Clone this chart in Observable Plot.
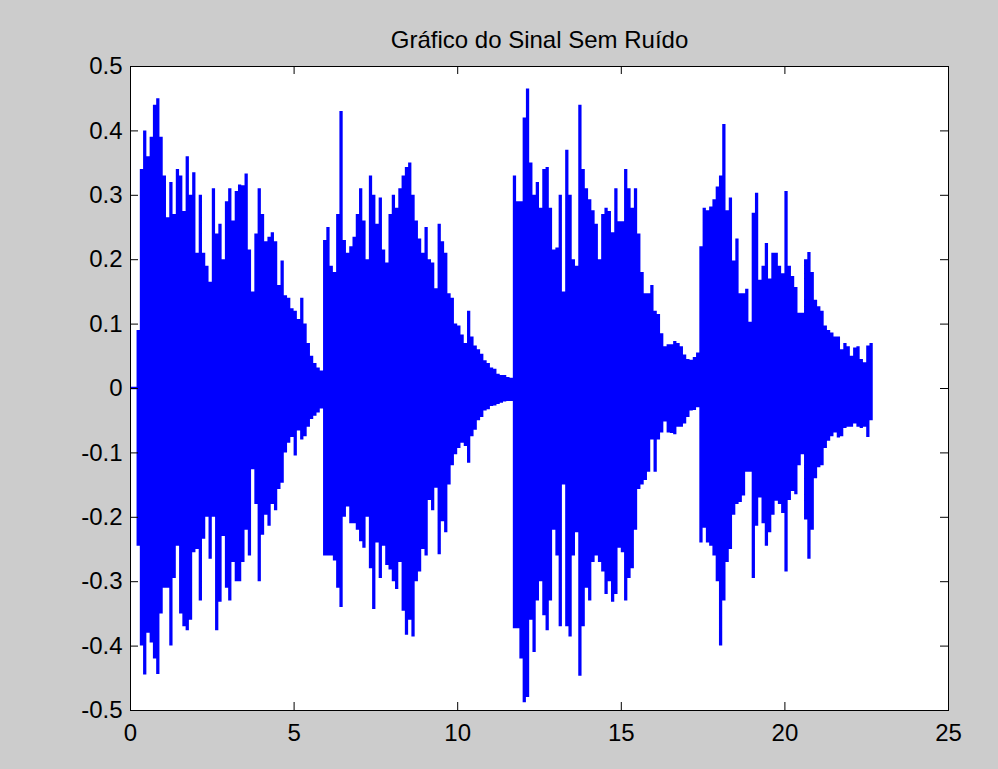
<!DOCTYPE html>
<html>
<head>
<meta charset="utf-8">
<script src="https://cdn.jsdelivr.net/npm/d3@7"></script>
<script src="https://cdn.jsdelivr.net/npm/@observablehq/plot@0.6"></script>
<style>
  html, body { margin: 0; padding: 0; background: #cccccc; }
  #chart svg { display: block; }
</style>
</head>
<body>
<div id="chart"></div>
<script>
// ---- data ----
const titleText = ["Gráfico do Sinal Sem Ruído"];
const sampleStep = 0.1; // seconds between envelope samples
const upperEnvelope = [
  0.002, 0.002, 0.09, 0.34, 0.40, 0.36, 0.39, 0.44, 0.45, 0.39,
  0.33, 0.265, 0.32, 0.27, 0.34, 0.33, 0.275, 0.36, 0.30, 0.335,
  0.21, 0.30, 0.21, 0.19, 0.165, 0.31, 0.24, 0.255, 0.20, 0.29,
  0.31, 0.26, 0.306, 0.316, 0.315, 0.333, 0.215, 0.15, 0.24, 0.31,
  0.27, 0.228, 0.235, 0.242, 0.228, 0.16, 0.198, 0.144, 0.14, 0.124,
  0.12, 0.107, 0.14, 0.10, 0.07, 0.05, 0.039, 0.032, 0.027, 0.23,
  0.25, 0.19, 0.18, 0.27, 0.43, 0.23, 0.21, 0.22, 0.235, 0.27,
  0.31, 0.26, 0.20, 0.33, 0.30, 0.255, 0.296, 0.215, 0.195, 0.27,
  0.30, 0.28, 0.31, 0.33, 0.343, 0.35, 0.30, 0.26, 0.232, 0.21,
  0.25, 0.20, 0.195, 0.155, 0.255, 0.228, 0.21, 0.147, 0.14, 0.10,
  0.097, 0.083, 0.07, 0.12, 0.08, 0.066, 0.06, 0.053, 0.043, 0.039,
  0.032, 0.03, 0.022, 0.02, 0.02, 0.017, 0.016, 0.33, 0.29, 0.29,
  0.42, 0.465, 0.35, 0.30, 0.32, 0.28, 0.34, 0.343, 0.28, 0.215,
  0.218, 0.30, 0.15, 0.37, 0.30, 0.20, 0.19, 0.44, 0.34, 0.31,
  0.293, 0.276, 0.255, 0.20, 0.27, 0.28, 0.275, 0.242, 0.31, 0.259,
  0.259, 0.34, 0.31, 0.28, 0.31, 0.24, 0.18, 0.147, 0.147, 0.16,
  0.12, 0.115, 0.085, 0.065, 0.068, 0.068, 0.073, 0.07, 0.065, 0.052,
  0.045, 0.044, 0.048, 0.055, 0.22, 0.28, 0.276, 0.282, 0.293, 0.313,
  0.33, 0.41, 0.276, 0.296, 0.198, 0.232, 0.147, 0.147, 0.154, 0.103,
  0.272, 0.303, 0.168, 0.19, 0.225, 0.17, 0.21, 0.21, 0.19, 0.178,
  0.306, 0.19, 0.174, 0.157, 0.117, 0.117, 0.20, 0.211, 0.18, 0.137,
  0.127, 0.12, 0.097, 0.09, 0.086, 0.08, 0.08, 0.06, 0.07, 0.065,
  0.05, 0.063, 0.065, 0.045, 0.04, 0.066, 0.07, 0
];
const lowerEnvelope = [
  -0.002, -0.002, -0.245, -0.40, -0.445, -0.38, -0.395, -0.42, -0.444, -0.35,
  -0.31, -0.31, -0.40, -0.295, -0.245, -0.35, -0.37, -0.376, -0.36, -0.255,
  -0.25, -0.33, -0.234, -0.20, -0.265, -0.20, -0.376, -0.332, -0.23, -0.31,
  -0.33, -0.27, -0.30, -0.30, -0.27, -0.22, -0.26, -0.126, -0.18, -0.30,
  -0.228, -0.197, -0.214, -0.18, -0.19, -0.157, -0.147, -0.10, -0.085, -0.076,
  -0.105, -0.066, -0.08, -0.075, -0.06, -0.048, -0.043, -0.038, -0.032, -0.26,
  -0.26, -0.26, -0.268, -0.31, -0.34, -0.20, -0.184, -0.21, -0.21, -0.22,
  -0.238, -0.248, -0.20, -0.28, -0.343, -0.24, -0.295, -0.245, -0.275, -0.282,
  -0.30, -0.312, -0.27, -0.346, -0.383, -0.36, -0.386, -0.30, -0.285, -0.25,
  -0.26, -0.174, -0.19, -0.155, -0.258, -0.207, -0.224, -0.15, -0.12, -0.103,
  -0.093, -0.085, -0.09, -0.116, -0.075, -0.065, -0.05, -0.045, -0.035, -0.033,
  -0.028, -0.027, -0.025, -0.023, -0.021, -0.02, -0.02, -0.373, -0.373, -0.42,
  -0.488, -0.48, -0.36, -0.41, -0.33, -0.30, -0.353, -0.376, -0.33, -0.22,
  -0.26, -0.37, -0.15, -0.37, -0.386, -0.26, -0.224, -0.447, -0.37, -0.31,
  -0.33, -0.27, -0.26, -0.27, -0.285, -0.32, -0.30, -0.332, -0.32, -0.248,
  -0.255, -0.33, -0.295, -0.28, -0.22, -0.157, -0.15, -0.143, -0.13, -0.08,
  -0.13, -0.08, -0.069, -0.052, -0.069, -0.07, -0.072, -0.06, -0.06, -0.055,
  -0.045, -0.035, -0.034, -0.03, -0.24, -0.217, -0.24, -0.245, -0.26, -0.30,
  -0.40, -0.33, -0.27, -0.25, -0.197, -0.18, -0.177, -0.167, -0.13, -0.13,
  -0.295, -0.214, -0.17, -0.21, -0.245, -0.224, -0.197, -0.175, -0.18, -0.194,
  -0.285, -0.174, -0.16, -0.165, -0.12, -0.103, -0.204, -0.265, -0.22, -0.14,
  -0.123, -0.12, -0.093, -0.082, -0.075, -0.069, -0.077, -0.075, -0.062, -0.06,
  -0.06, -0.055, -0.06, -0.062, -0.06, -0.076, -0.05, 0
];
const xTicks = [0, 5, 10, 15, 20, 25];
const xTickLabels = ["0", "5", "10", "15", "20", "25"];
const yTicks = [-0.5, -0.4, -0.3, -0.2, -0.1, 0, 0.1, 0.2, 0.3, 0.4, 0.5];
const yTickLabels = ["-0.5", "-0.4", "-0.3", "-0.2", "-0.1", "0", "0.1", "0.2", "0.3", "0.4", "0.5"];

// ---- table for the library ----
const samples = upperEnvelope.map((hi, i) => ({
  t: +(i * sampleStep).toFixed(2),
  hi,
  lo: lowerEnvelope[i]
}));
const xLabelOf = new Map(xTicks.map((v, i) => [v, xTickLabels[i]]));
const yLabelOf = new Map(yTicks.map((v, i) => [v, yTickLabels[i]]));

// ---- layout ----
const W = 998, H = 769;
const mL = 130, mR = 50, mT = 66, mB = 59;
const plotW = W - mL - mR;
const plotH = H - mT - mB;
const tickLen = 8;
const font = "'Liberation Sans', Arial, Helvetica, sans-serif";

const chart = Plot.plot({
  width: W,
  height: H,
  marginLeft: mL,
  marginRight: mR,
  marginTop: mT,
  marginBottom: mB,
  style: { background: "#cccccc", fontFamily: font, fontSize: "24px", color: "#000000" },
  x: { domain: [0, 25] },
  y: { domain: [-0.5, 0.5] },
  marks: [
    Plot.frame({ fill: "#ffffff" }),
    Plot.areaY(samples, { x: "t", y1: "lo", y2: "hi", curve: "step-after", fill: "#0000ff" }),
    Plot.tickX(xTicks, { x: d => d, insetTop: plotH - tickLen, stroke: "#000000" }),
    Plot.tickX(xTicks, { x: d => d, insetBottom: plotH - tickLen, stroke: "#000000" }),
    Plot.tickY(yTicks, { y: d => d, insetRight: plotW - tickLen, stroke: "#000000" }),
    Plot.tickY(yTicks, { y: d => d, insetLeft: plotW - tickLen, stroke: "#000000" }),
    Plot.frame({ stroke: "#000000" }),
    Plot.axisX(xTicks, { tickSize: 0, tickPadding: 13, tickFormat: d => xLabelOf.get(d), label: null, fontSize: 24 }),
    Plot.axisY(yTicks, { tickSize: 0, tickPadding: 8, tickFormat: d => yLabelOf.get(d), label: null, fontSize: 24 }),
    Plot.text(titleText, { text: d => d, frameAnchor: "top", lineAnchor: "bottom", dy: -19, fontSize: 24, fill: "#000000" })
  ]
});
document.getElementById("chart").appendChild(chart);
</script>
</body>
</html>
